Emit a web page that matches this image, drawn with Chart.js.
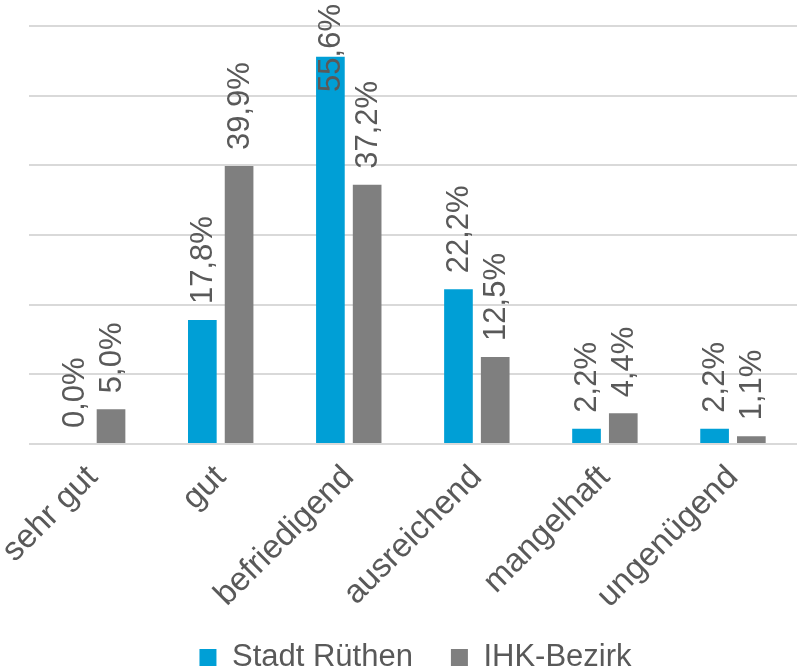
<!DOCTYPE html>
<html>
<head>
<meta charset="utf-8">
<script src="https://cdn.jsdelivr.net/npm/chart.js@4"></script>
<style>
  html, body { margin: 0; padding: 0; background: #fff; }
  #wrap { width: 797px; height: 671px; }
</style>
</head>
<body>
<div id="wrap"><canvas id="barchart" width="797" height="671"></canvas></div>
<script>
// Noten
const categories = ['sehr gut', 'gut', 'befriedigend', 'ausreichend', 'mangelhaft', 'ungenügend'];
const stadtRuethen = [0.0, 17.8, 55.6, 22.2, 2.2, 2.2];
const ihkBezirk = [5.0, 39.9, 37.2, 12.5, 4.4, 1.1];
const yTicks = [0, 10, 20, 30, 40, 50, 60];

const FONT = 'Liberation Sans, Arial, sans-serif';
const TEXT = '#595959';
const LEGEND_PAD = 38;
const LEGEND_H = 50;

// rotated value labels above the bars
const valueLabels = {
  id: 'valueLabels',
  afterDatasetsDraw(chart) {
    const ctx = chart.ctx;
    ctx.save();
    ctx.font = '31px ' + FONT;
    ctx.fillStyle = TEXT;
    ctx.textAlign = 'left';
    ctx.textBaseline = 'middle';
    chart.data.datasets.forEach((ds, i) => {
      chart.getDatasetMeta(i).data.forEach((bar, j) => {
        const txt = ds.data[j].toFixed(1).replace('.', ',') + '%';
        const w = ctx.measureText(txt).width;
        let y = bar.y - 16;
        if (y - w < 4) y = 4 + w;
        ctx.save();
        ctx.translate(bar.x + 1, y);
        ctx.rotate(-Math.PI / 2);
        ctx.fillText(txt, 0, 0);
        ctx.restore();
      });
    });
    ctx.restore();
  }
};

// small legend box, row placed near the bottom edge
const legendShift = {
  id: 'legendShift',
  afterInit(chart) {
    const lg = chart.legend;
    const fit = lg.fit.bind(lg);
    lg.fit = function () {
      fit();
      this.height = LEGEND_H;
    };
  },
  afterLayout(chart) {
    const lg = chart.legend;
    lg.top = 658 - LEGEND_PAD - 16;
    lg.bottom = chart.height;
    lg.height = lg.bottom - lg.top;
  }
};

new Chart(document.getElementById('barchart').getContext('2d'), {
  type: 'bar',
  data: {
    labels: categories,
    datasets: [
      { label: 'Stadt Rüthen', data: stadtRuethen, backgroundColor: '#009FD6' },
      { label: 'IHK-Bezirk', data: ihkBezirk, backgroundColor: '#7F7F7F' }
    ]
  },
  options: {
    responsive: false,
    animation: false,
    maintainAspectRatio: false,
    categoryPercentage: 0.574,
    barPercentage: 0.78,
    layout: { padding: { left: 28, top: 26, right: -6, bottom: 0 } },
    plugins: {
      tooltip: { enabled: false },
      legend: {
        position: 'bottom',
        labels: {
          font: { family: FONT, size: 31 },
          color: TEXT,
          boxWidth: 17,
          boxHeight: 17,
          padding: LEGEND_PAD
        }
      }
    },
    scales: {
      x: {
        grid: { display: false },
        border: { display: false },
        ticks: {
          font: { family: FONT, size: 33 },
          color: TEXT,
          minRotation: 45,
          maxRotation: 45,
          padding: 6
        },
        afterFit: scale => {
          // keep the baseline at y = 444
          scale.height = 671 - LEGEND_H - 444;
        }
      },
      y: {
        min: yTicks[0],
        max: yTicks[yTicks.length - 1],
        afterBuildTicks: scale => { scale.ticks = yTicks.map(v => ({ value: v })); },
        grid: { color: '#D9D9D9', lineWidth: 2, drawTicks: false },
        border: { display: false },
        ticks: { display: false }
      }
    }
  },
  plugins: [valueLabels, legendShift]
});
</script>
</body>
</html>
